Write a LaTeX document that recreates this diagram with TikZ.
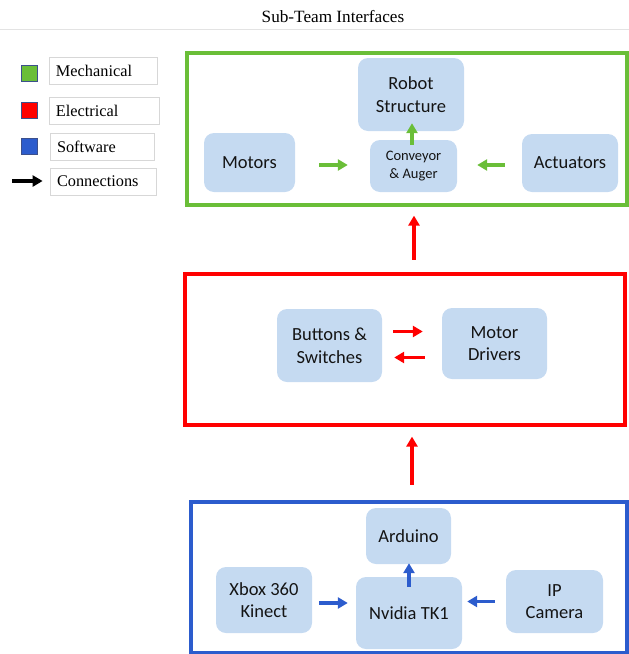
\documentclass[tikz,border=0pt]{standalone}
\usepackage{fontspec}
\setmainfont{Liberation Serif}
\newfontfamily\boxfont{Carlito}
\usetikzlibrary{arrows.meta}
\definecolor{mechg}{RGB}{106,190,56}
\definecolor{elecr}{RGB}{255,0,0}
\definecolor{softb}{RGB}{44,92,205}
\definecolor{boxfill}{RGB}{197,218,241}
\definecolor{textc}{RGB}{20,20,20}
\definecolor{legline}{RGB}{215,215,215}
\definecolor{sqborder}{RGB}{60,80,140}
\begin{document}
\begin{tikzpicture}[x=1pt,y=-1pt,
  blk/.style={fill=boxfill, rounded corners=10pt, text=textc, align=center, inner sep=0pt,
    font=\boxfont\fontsize{18.5}{22.5}\selectfont},
  smallblk/.style={blk, font=\boxfont\fontsize{14.5}{18}\selectfont},
  grp/.style={line width=3.2pt, inner sep=0pt},
  conn/.style={line width=3.2pt, -{Triangle[length=10pt,width=11pt]}},
  legbox/.style={draw=legline, line width=0.8pt, inner xsep=7pt, inner ysep=0pt, align=left,
    minimum height=27pt, text=black, font=\fontsize{16.3}{19}\selectfont},
  legsq/.style={draw=sqborder, line width=0.7pt, minimum size=16pt, inner sep=0pt}
]
\useasboundingbox (0,0) rectangle (629,654);

% title and rule
\node[font=\fontsize{17.2}{20}\selectfont, text=black] (title) at (333,17) {Sub-Team Interfaces};
\coordinate (rl) at (0,29.5);
\coordinate (rr) at (629,29.5);
\draw[legline!70, line width=1pt] (rl) -- (rr);

% legend
\node[legsq, fill=mechg] (sqm) at (29,73) {};
\node[legsq, fill=elecr] (sqe) at (29,110.5) {};
\node[legsq, fill=softb] (sqs) at (29,146) {};
\node[legbox, text width=94pt] (lm) at (103,70.5) {Mechanical};
\node[legbox, text width=96pt] (le) at (104,110.5) {Electrical};
\node[legbox, text width=90pt] (ls) at (102,146.5) {Software};
\node[legbox, text width=92pt] (lc) at (103,181.5) {Connections};
\coordinate (la) at (12,181);
\draw[conn, black, shorten >=7pt] (la) -- (la -| lc.west);

% group frames
\node[grp, draw=mechg, minimum width=440pt, minimum height=152pt] (mech) at (407,129) {};
\node[grp, draw=elecr, minimum width=440pt, minimum height=151pt] (elec) at (405,349.5) {};
\node[grp, draw=softb, minimum width=436pt, minimum height=151pt] (soft) at (409,577.5) {};

% mechanical blocks
\node[blk, minimum width=106pt, minimum height=73pt] (robot) at (411,94.5) {Robot\\Structure};
\node[blk, minimum width=91pt, minimum height=59pt] (motors) at (249.5,162.5) {Motors};
\node[smallblk, minimum width=87pt, minimum height=52pt] (conv) at (413.5,166) {Conveyor\\\& Auger};
\node[blk, minimum width=96pt, minimum height=58pt] (act) at (570,163) {Actuators};

\coordinate (m1) at ([xshift=24pt,yshift=-2.5pt]motors.east);
\draw[conn, mechg, shorten >=22pt] (m1) -- (m1 -| conv.west);
\coordinate (m2) at ([xshift=-17pt,yshift=-2pt]act.west);
\draw[conn, mechg, shorten >=20pt] (m2) -- (m2 -| conv.east);
\coordinate (m3) at ([xshift=-1.5pt,yshift=-5pt]conv.north);
\draw[conn, mechg, shorten >=-8pt] (m3) -- (m3 |- robot.south);

% electrical blocks
\node[blk, minimum width=105pt, minimum height=73pt] (btn) at (329.5,345.5) {Buttons \&\\Switches};
\node[blk, minimum width=105pt, minimum height=71pt] (mdrv) at (494.5,343.5) {Motor\\Drivers};
\coordinate (e1) at ([xshift=11pt,yshift=14pt]btn.east);
\draw[conn, elecr, shorten >=19pt] (e1) -- (e1 -| mdrv.west);
\coordinate (e2) at ([xshift=-17pt,yshift=-14pt]mdrv.west);
\draw[conn, elecr, shorten >=12pt] (e2) -- (e2 -| btn.east);

% software blocks
\node[blk, minimum width=85pt, minimum height=56pt] (ard) at (408.5,536) {Arduino};
\node[blk, minimum width=96pt, minimum height=66pt] (xbox) at (264,600) {Xbox 360\\Kinect};
\node[blk, minimum width=106pt, minimum height=72pt] (nv) at (409,613) {Nvidia TK1};
\node[blk, minimum width=97pt, minimum height=63pt] (ip) at (554.5,601.5) {IP\\Camera};
\coordinate (s1) at ([xshift=7pt,yshift=-3pt]xbox.east);
\draw[conn, softb, shorten >=8pt] (s1) -- (s1 -| nv.west);
\coordinate (s2) at ([xshift=-11pt]ip.west);
\draw[conn, softb, shorten >=5pt] (s2) -- (s2 -| nv.east);
\coordinate (s3) at ([yshift=-10pt]nv.north);
\draw[conn, softb, shorten >=-1pt] (s3) -- (s3 |- ard.south);

% inter-group connections
\coordinate (g1) at ([xshift=9pt,yshift=12.5pt]elec.north);
\draw[conn, elecr, shorten >=9pt] (g1) -- (g1 |- mech.south);
\coordinate (g2) at ([xshift=3pt,yshift=15.5pt]soft.north);
\draw[conn, elecr, shorten >=10pt] (g2) -- (g2 |- elec.south);
\end{tikzpicture}
\end{document}
